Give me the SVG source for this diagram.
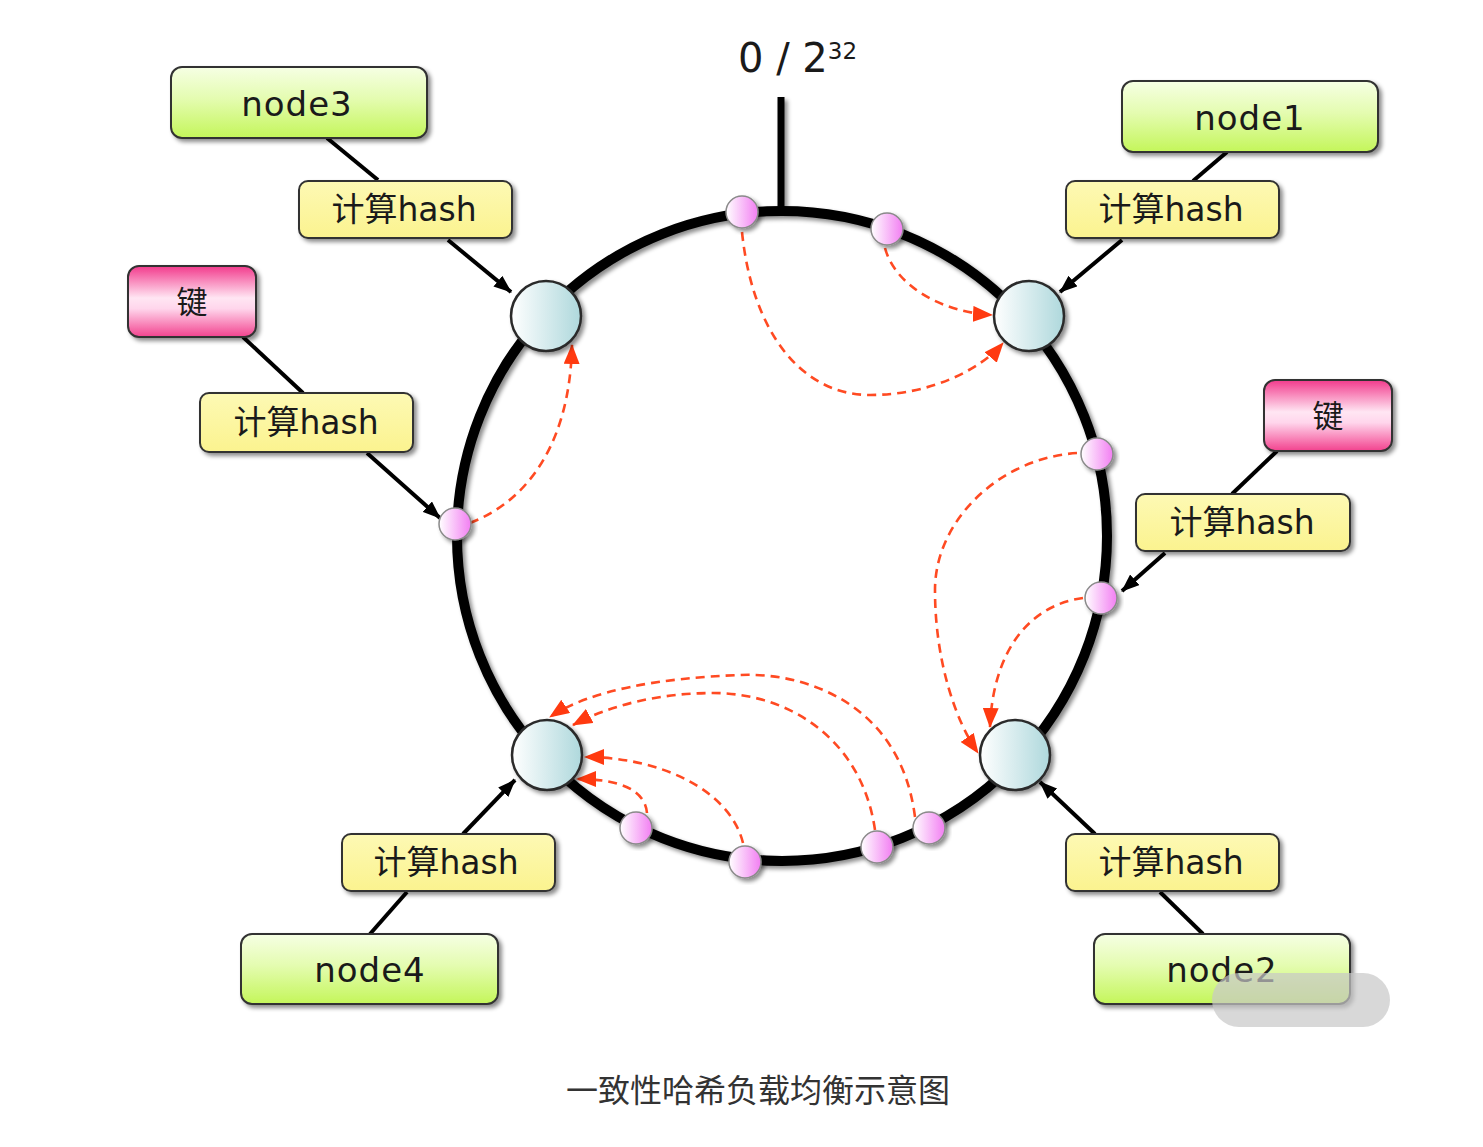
<svg xmlns="http://www.w3.org/2000/svg" width="1483" height="1147" viewBox="0 0 1483 1147">
<style>
  .lbl{font-family:"DejaVu Sans","Noto Sans CJK SC",sans-serif;fill:#1a1a1a;text-anchor:middle;}
  .node{font-size:34px;letter-spacing:1px;}
  .hash{font-size:33px;}
  .key{font-size:31px;}
  .box{stroke:#333;stroke-width:2;filter:url(#sh);}
  .blk{stroke:#000;stroke-width:4;fill:none;}
  .red{stroke:#ff4a22;stroke-width:2.6;fill:none;stroke-dasharray:9 6;marker-end:url(#ra);}
  .big{fill:url(#gBig);stroke:#2a2a2a;stroke-width:2.5;filter:url(#sh);}
  .pk{fill:url(#gPk);stroke:#8a8a8a;stroke-width:1.5;filter:url(#sh);}
</style>
<defs>
  <filter id="sh" x="-20%" y="-20%" width="140%" height="140%">
    <feDropShadow dx="3" dy="3" stdDeviation="2" flood-color="#000" flood-opacity="0.45"/>
  </filter>
  <linearGradient id="gGreen" x1="0" y1="0" x2="0" y2="1">
    <stop offset="0" stop-color="#f6ffe4"/>
    <stop offset="0.45" stop-color="#e4fcb0"/>
    <stop offset="1" stop-color="#c4f65a"/>
  </linearGradient>
  <linearGradient id="gYel" x1="0" y1="0" x2="0" y2="1">
    <stop offset="0" stop-color="#fdf9b4"/>
    <stop offset="1" stop-color="#fbf38f"/>
  </linearGradient>
  <linearGradient id="gPink" x1="0" y1="0" x2="0" y2="1">
    <stop offset="0" stop-color="#f23a8c"/>
    <stop offset="0.45" stop-color="#ffe6f3"/>
    <stop offset="0.6" stop-color="#ffd6ec"/>
    <stop offset="1" stop-color="#f2428e"/>
  </linearGradient>
  <linearGradient id="gBig" x1="0" y1="0" x2="1" y2="0">
    <stop offset="0" stop-color="#ffffff"/>
    <stop offset="1" stop-color="#aed8dc"/>
  </linearGradient>
  <linearGradient id="gPk" x1="0" y1="0" x2="1" y2="0">
    <stop offset="0" stop-color="#ffffff"/>
    <stop offset="1" stop-color="#f27ef2"/>
  </linearGradient>
  <marker id="ba" viewBox="0 0 18 14" refX="17" refY="7" markerWidth="18" markerHeight="14" markerUnits="userSpaceOnUse" orient="auto">
    <path d="M0,0 L18,7 L0,14 Z" fill="#000"/>
  </marker>
  <marker id="ra" viewBox="0 0 20 16" refX="19" refY="8" markerWidth="20" markerHeight="16" markerUnits="userSpaceOnUse" orient="auto">
    <path d="M0,0 L20,8 L0,16 Z" fill="#ff3a10"/>
  </marker>
</defs>

<!-- ring and zero tick -->
<g id="ring" filter="url(#sh)">
  <circle cx="782" cy="536" r="325" fill="none" stroke="#000" stroke-width="10"/>
  <line x1="781" y1="97" x2="781" y2="213" stroke="#000" stroke-width="7"/>
</g>
<text class="lbl" x="738" y="72" font-size="40" style="text-anchor:start">0 / 2<tspan font-size="23" dy="-13">32</tspan></text>

<!-- connectors -->
<g id="connectors">
  <line class="blk" x1="327" y1="138" x2="378" y2="180"/>
  <line class="blk" x1="448" y1="240" x2="511" y2="292" marker-end="url(#ba)"/>
  <line class="blk" x1="243" y1="337" x2="303" y2="393"/>
  <line class="blk" x1="367" y1="453" x2="440" y2="518" marker-end="url(#ba)"/>
  <line class="blk" x1="1227" y1="152" x2="1193" y2="181"/>
  <line class="blk" x1="1122" y1="240" x2="1060" y2="292" marker-end="url(#ba)"/>
  <line class="blk" x1="1277" y1="451" x2="1232" y2="494"/>
  <line class="blk" x1="1165" y1="553" x2="1122" y2="591" marker-end="url(#ba)"/>
  <line class="blk" x1="463" y1="834" x2="515" y2="780" marker-end="url(#ba)"/>
  <line class="blk" x1="370" y1="934" x2="407" y2="892"/>
  <line class="blk" x1="1095" y1="834" x2="1040" y2="782" marker-end="url(#ba)"/>
  <line class="blk" x1="1160" y1="892" x2="1203" y2="934"/>

  <path class="red" d="M742,232 C752,330 800,395 870,395 C930,395 980,370 1003,343"/>
  <path class="red" d="M885,248 C895,285 940,312 992,315"/>
  <path class="red" d="M470,523 C530,500 570,440 572,345"/>
  <path class="red" d="M1077,453 C1000,458 935,520 935,590 C935,660 955,720 978,753"/>
  <path class="red" d="M1083,598 C1030,605 993,650 990,727"/>
  <path class="red" d="M915,817 C900,700 800,672 740,675 C660,678 590,690 550,717"/>
  <path class="red" d="M875,830 C862,740 790,693 713,693 C660,693 610,705 573,725"/>
  <path class="red" d="M743,843 C730,790 660,757 585,757"/>
  <path class="red" d="M647,813 C645,790 620,779 577,779"/>
</g>

<!-- server nodes on the ring -->
<g id="ring-node3"><circle class="big" cx="546" cy="316" r="35"/></g>
<g id="ring-node1"><circle class="big" cx="1029" cy="316" r="35"/></g>
<g id="ring-node2"><circle class="big" cx="1015" cy="755" r="35"/></g>
<g id="ring-node4"><circle class="big" cx="547" cy="755" r="35"/></g>

<!-- key points on the ring -->
<g id="keys-on-ring">
  <circle class="pk" cx="742" cy="212" r="16"/>
  <circle class="pk" cx="887" cy="229" r="16"/>
  <circle class="pk" cx="455" cy="524" r="16"/>
  <circle class="pk" cx="1097" cy="454" r="16"/>
  <circle class="pk" cx="1101" cy="598" r="16"/>
  <circle class="pk" cx="636" cy="828" r="16"/>
  <circle class="pk" cx="745" cy="862" r="16"/>
  <circle class="pk" cx="877" cy="847" r="16"/>
  <circle class="pk" cx="929" cy="828" r="16"/>
</g>

<!-- boxes -->
<g id="node3"><rect class="box" x="171" y="67" width="256" height="71" rx="11" fill="url(#gGreen)"/><text class="lbl node" x="297" y="116">node3</text></g>
<g id="node1"><rect class="box" x="1122" y="81" width="256" height="71" rx="11" fill="url(#gGreen)"/><text class="lbl node" x="1250" y="130">node1</text></g>
<g id="node4"><rect class="box" x="241" y="934" width="257" height="70" rx="11" fill="url(#gGreen)"/><text class="lbl node" x="370" y="982">node4</text></g>
<g id="node2"><rect class="box" x="1094" y="934" width="256" height="70" rx="11" fill="url(#gGreen)"/><text class="lbl node" x="1222" y="982">node2</text></g>

<g id="hash-tl"><rect class="box" x="299" y="181" width="213" height="57" rx="9" fill="url(#gYel)"/><text class="lbl hash" x="404" y="221">计算hash</text></g>
<g id="hash-l"><rect class="box" x="200" y="393" width="213" height="59" rx="9" fill="url(#gYel)"/><text class="lbl hash" x="306" y="434">计算hash</text></g>
<g id="hash-tr"><rect class="box" x="1066" y="181" width="213" height="57" rx="9" fill="url(#gYel)"/><text class="lbl hash" x="1171" y="221">计算hash</text></g>
<g id="hash-r"><rect class="box" x="1136" y="494" width="214" height="57" rx="9" fill="url(#gYel)"/><text class="lbl hash" x="1242" y="534">计算hash</text></g>
<g id="hash-bl"><rect class="box" x="342" y="834" width="213" height="57" rx="9" fill="url(#gYel)"/><text class="lbl hash" x="446" y="874">计算hash</text></g>
<g id="hash-br"><rect class="box" x="1066" y="834" width="213" height="57" rx="9" fill="url(#gYel)"/><text class="lbl hash" x="1171" y="874">计算hash</text></g>

<g id="key-l"><rect class="box" x="128" y="266" width="128" height="71" rx="11" fill="url(#gPink)"/><text class="lbl key" x="192" y="313">键</text></g>
<g id="key-r"><rect class="box" x="1264" y="380" width="128" height="71" rx="11" fill="url(#gPink)"/><text class="lbl key" x="1328" y="427">键</text></g>

<!-- blurred watermark -->
<rect x="1212" y="973" width="178" height="54" rx="27" fill="#c8c8c8" opacity="0.7"/>

<text class="lbl" x="758" y="1102" font-size="32" style="fill:#333">一致性哈希负载均衡示意图</text>
</svg>
